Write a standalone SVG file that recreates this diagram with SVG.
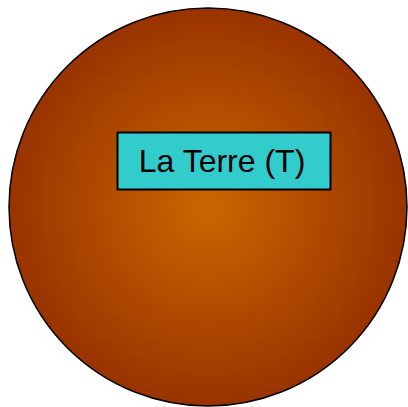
<svg xmlns="http://www.w3.org/2000/svg" width="408" height="407" viewBox="0 0 408 407">
<defs>
<radialGradient id="g" cx="50%" cy="50%" r="50%">
<stop offset="0" stop-color="#CC6600"/>
<stop offset="1" stop-color="#993300"/>
</radialGradient>
<style>
.lbl{font-family:"Liberation Sans",Arial,sans-serif;font-size:32px;fill:#000}
</style>
</defs>
<g id="earth">
<circle cx="208" cy="207" r="199" fill="url(#g)" stroke="#000" stroke-width="1.5"/>
</g>
<g id="label">
<rect x="117.5" y="132.5" width="213" height="57" fill="#33CCCC" stroke="#000" stroke-width="2"/>
<text class="lbl" x="222" y="172" text-anchor="middle">La Terre (T)</text>
</g>
<g id="connectors"/>
</svg>
